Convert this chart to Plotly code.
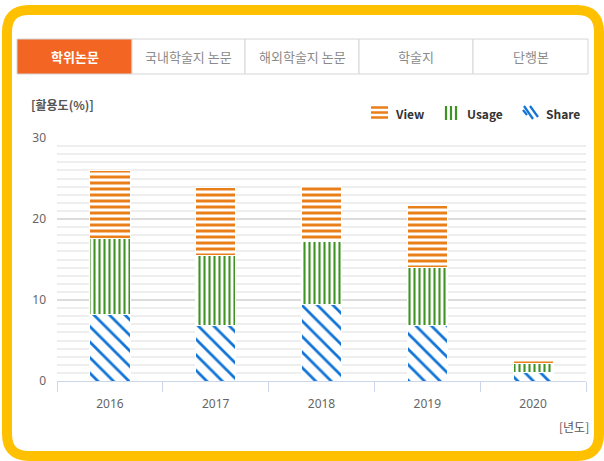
import plotly.graph_objects as go

years = ["2016", "2017", "2018", "2019", "2020"]
share = [8.2, 6.9, 9.4, 6.9, 1.1]
usage = [9.4, 8.6, 7.8, 7.1, 1.0]
view = [8.4, 8.4, 6.8, 7.7, 0.5]
tabs = ["학위논문", "국내학술지 논문", "해외학술지 논문", "학술지", "단행본"]
series_names = ["View", "Usage", "Share"]

W, H = 604, 461
ML, MR, MT, MB = 57, 18, 138, 80
PW, PH = W - ML - MR, H - MT - MB


def px(x):
    return (x - ML) / PW


def py(y):
    return (H - MB - y) / PH


FONT = "Noto Sans CJK KR"
C_VIEW, C_USAGE, C_SHARE = "#ea7f1a", "#3f9322", "#1174d6"

fig = go.Figure()
fig.add_bar(name="Share", x=years, y=share, showlegend=False,
            marker=dict(color="white", line=dict(color="white", width=1),
                        pattern=dict(shape="\\", fgcolor=C_SHARE, bgcolor="white", fgopacity=1,
                                     size=11, solidity=0.25)))
fig.add_bar(name="Usage", x=years, y=usage, showlegend=False,
            marker=dict(color="white", line=dict(color="white", width=1),
                        pattern=dict(shape="|", fgcolor=C_USAGE, bgcolor="white", fgopacity=1,
                                     size=5, solidity=0.42)))
fig.add_bar(name="View", x=years, y=view, showlegend=False,
            marker=dict(color="white", line=dict(color="white", width=1),
                        pattern=dict(shape="-", fgcolor=C_VIEW, bgcolor="white", fgopacity=1,
                                     size=6, solidity=0.5)))

shapes = []


def rpath(x0, y0, x1, y1, r):
    pts = [("M", [(x0 + r, y0)]), ("L", [(x1 - r, y0)]), ("Q", [(x1, y0), (x1, y0 + r)]),
           ("L", [(x1, y1 - r)]), ("Q", [(x1, y1), (x1 - r, y1)]), ("L", [(x0 + r, y1)]),
           ("Q", [(x0, y1), (x0, y1 - r)]), ("L", [(x0, y0 + r)]), ("Q", [(x0, y0), (x0 + r, y0)])]
    s = ""
    for cmd, ps in pts:
        s += cmd + " ".join(f"{px(a):.5f},{py(b):.5f}" for a, b in ps)
    return s + "Z"


def seg(x0, y0, x1, y1, color, w):
    return dict(type="line", xref="paper", yref="paper", x0=px(x0), y0=py(y0), x1=px(x1), y1=py(y1),
                line=dict(color=color, width=w))


shapes.append(dict(type="path", xref="paper", yref="paper", path=rpath(7, 10, 599, 456, 22),
                   line=dict(color="#ffc000", width=10), fillcolor="white", layer="below"))

# tabs
edges = [17, 132, 245, 359, 473, 588]
annotations = []
for i, t in enumerate(tabs):
    x0, x1 = edges[i], edges[i + 1]
    shapes.append(dict(type="rect", xref="paper", yref="paper",
                       x0=px(x0), x1=px(x1), y0=py(74), y1=py(39),
                       fillcolor="#f26522" if i == 0 else "white",
                       line=dict(color="#d6d6d6", width=1)))
    annotations.append(dict(xref="paper", yref="paper", x=px((x0 + x1) / 2), y=py(56.5),
                            text=t, showarrow=False, xanchor="center", yanchor="middle",
                            font=dict(family=FONT, size=13, color="white" if i == 0 else "#8a8a8a",
                                      weight="bold" if i == 0 else "normal")))

# legend (custom icons)
for yy in (107.5, 112.5, 117.5):
    shapes.append(seg(371, yy, 388, yy, C_VIEW, 2.5))
for xx in (446, 451, 456):
    shapes.append(seg(xx, 106, xx, 120, C_USAGE, 2.2))
for (a, b, c, d) in ((523, 110, 527, 115), (524, 106, 533, 119), (530, 106, 538, 117)):
    shapes.append(seg(a, b, c, d, C_SHARE, 2.2))
for name, xx in zip(series_names, (393, 465, 544)):
    annotations.append(dict(xref="paper", yref="paper", x=px(xx), y=py(113.5), text=name,
                            showarrow=False, xanchor="left", yanchor="middle",
                            font=dict(family=FONT, size=12, color="#333333", weight="bold")))

annotations.append(dict(xref="paper", yref="paper", x=px(29), y=py(104), text="[활용도(%)]",
                        showarrow=False, xanchor="left", yanchor="middle",
                        font=dict(family=FONT, size=12, color="#555555", weight="bold")))
annotations.append(dict(xref="paper", yref="paper", x=px(591), y=py(426), text="[년도]",
                        showarrow=False, xanchor="right", yanchor="middle",
                        font=dict(family=FONT, size=12, color="#555555")))

fig.update_layout(
    width=W, height=H,
    margin=dict(l=ML, r=MR, t=MT, b=MB, pad=0),
    paper_bgcolor="white", plot_bgcolor="white",
    barmode="stack", bargap=0.62,
    showlegend=False,
    shapes=shapes, annotations=annotations,
    xaxis=dict(type="category", showline=True, linecolor="#ccd6eb", linewidth=1,
               ticks="outside", tickson="boundaries", ticklen=10, tickcolor="#ccd6eb",
               tickfont=dict(family="Noto Sans", size=12, color="#666666"),
               ticklabelstandoff=12, showgrid=False, fixedrange=True),
    yaxis=dict(range=[0, 30], dtick=10, tick0=0, showline=False, zeroline=False,
               gridcolor="#dcdcdc", gridwidth=2,
               minor=dict(dtick=1, showgrid=True, gridcolor="#eeeeee", gridwidth=2),
               tickfont=dict(family="Noto Sans", size=12, color="#666666"),
               ticklabelstandoff=10, fixedrange=True),
)

fig.write_html("out.html", config={"displayModeBar": False},
               post_script="document.body.style.margin='0';document.body.style.overflow='hidden';")
